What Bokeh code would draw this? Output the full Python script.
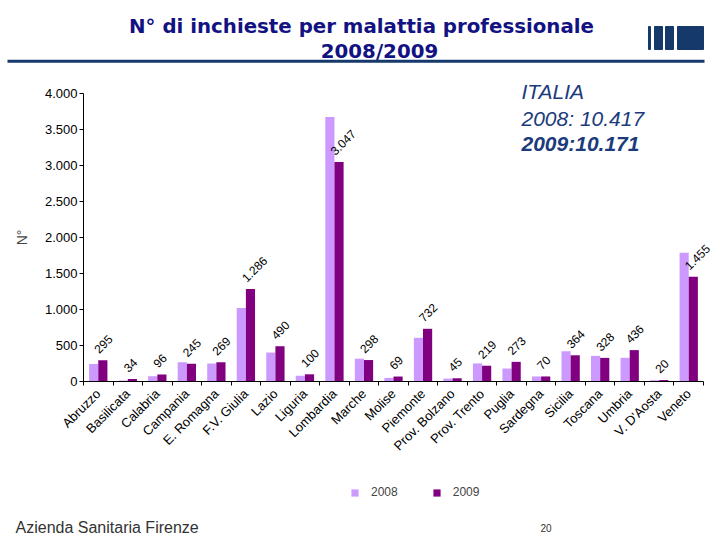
import math
from bokeh.plotting import figure
from bokeh.models import (Range1d, FixedTicker, ColumnDataSource, LabelSet,
                          Legend, LegendItem)
from bokeh.transform import dodge
from bokeh.embed import file_html
from bokeh.resources import INLINE
from bokeh.core.properties import value

# ---------------- data ----------------
regions = ["Abruzzo", "Basilicata", "Calabria", "Campania", "E. Romagna", "F.V. Giulia",
           "Lazio", "Liguria", "Lombardia", "Marche", "Molise", "Piemonte",
           "Prov. Bolzano", "Prov. Trento", "Puglia", "Sardegna", "Sicilia", "Toscana",
           "Umbria", "V. D'Aosta", "Veneto"]
v2008 = [244, 15, 72, 268, 250, 1022, 402, 80, 3673, 317, 50, 607,
         40, 251, 180, 70, 420, 356, 329, 18, 1789]
v2009 = [295, 34, 96, 245, 269, 1286, 490, 100, 3047, 298, 69, 732,
         45, 219, 273, 70, 364, 328, 436, 20, 1455]
labels2009 = [f"{v:,}".replace(",", ".") for v in v2009]
series_names = ["2008", "2009"]
yticks = [0, 500, 1000, 1500, 2000, 2500, 3000, 3500, 4000]
ytick_labels = ["0", "500", "1.000", "1.500", "2.000", "2.500", "3.000", "3.500", "4.000"]
title_lines = ["N° di inchieste per malattia professionale", "2008/2009"]
italia_lines = ["ITALIA", "2008: 10.417", "2009:10.171"]
footer_text = "Azienda Sanitaria Firenze"
page_number = "20"

FONT = "Liberation Sans"
C08 = "#cc99ff"
C09 = "#800080"
NAVY = "#15396b"
W, H = 720, 540

# ---------------- page geometry (pixels -> data) ----------------
n = len(regions)
AX_LEFT, AX_RIGHT, AX_ZERO, AX_TOP = 83, 703, 381, 93
cat_px = (AX_RIGHT - AX_LEFT) / n
unit_px = (AX_ZERO - AX_TOP) / 4000


def X(px):
    return -0.5 + (px - AX_LEFT) / cat_px


def Y(py):
    return (AX_ZERO - py) / unit_px


p = figure(width=W, height=H, x_range=Range1d(X(0), X(W)), y_range=Range1d(Y(H), Y(0)),
           output_backend="svg", toolbar_location=None, min_border=0)
p.outline_line_color = None
p.xgrid.visible = False
p.ygrid.visible = False

# ---------------- bars ----------------
idx = list(range(n))
src = ColumnDataSource(dict(x=idx, region=regions, a=v2008, b=v2009, lab=labels2009))
r08 = p.vbar(x=dodge("x", -0.155, range=p.x_range), top="a", width=0.31, source=src,
             fill_color=C08, line_color=None)
r09 = p.vbar(x=dodge("x", 0.155, range=p.x_range), top="b", width=0.31, source=src,
             fill_color=C09, line_color=None)

vl = LabelSet(x="x", y="b", text="lab", source=src, x_offset=1, y_offset=6,
              angle=45, angle_units="deg", text_align="left", text_baseline="bottom",
              text_font=value(FONT), text_font_size="12px", text_color="#000000")
p.add_layout(vl)

# ---------------- axes ----------------
p.xaxis.fixed_location = 0
p.xaxis.bounds = (-0.5, n - 0.5)
p.xaxis.ticker = FixedTicker(ticks=idx, minor_ticks=[i - 0.5 for i in range(n + 1)])
p.xaxis.major_label_overrides = {i: r for i, r in enumerate(regions)}
p.xaxis.major_label_orientation = math.pi / 4
p.xaxis.major_tick_out = 0
p.xaxis.major_tick_in = 0
p.xaxis.minor_tick_out = 4
p.xaxis.minor_tick_in = 0
p.xaxis.major_label_standoff = 6
p.xaxis.major_label_text_font = FONT
p.xaxis.major_label_text_font_size = "13px"
p.xaxis.major_label_text_color = "#000000"
p.xaxis.axis_line_color = "#000000"
p.xaxis.minor_tick_line_color = "#000000"

p.yaxis.fixed_location = -0.5
p.yaxis.bounds = (0, 4000)
p.yaxis.ticker = FixedTicker(ticks=yticks)
p.yaxis.major_label_overrides = dict(zip(yticks, ytick_labels))
p.yaxis.major_tick_out = 4
p.yaxis.major_tick_in = 0
p.yaxis.minor_tick_line_color = None
p.yaxis.major_label_standoff = 2
p.yaxis.major_label_text_font = FONT
p.yaxis.major_label_text_font_size = "13px"
p.yaxis.major_label_text_color = "#000000"
p.yaxis.axis_line_color = "#000000"
p.yaxis.major_tick_line_color = "#000000"
p.yaxis.axis_label = "N°"
p.yaxis.axis_label_text_font = FONT
p.yaxis.axis_label_text_font_style = "normal"
p.yaxis.axis_label_text_font_size = "14px"
p.yaxis.axis_label_standoff = 12

# ---------------- header: title, rule, logo ----------------
p.text(x=[X(361), X(379)], y=[Y(25.7), Y(51)], text=title_lines, text_align="center",
       text_baseline="alphabetic", text_font=value("DejaVu Sans"), text_font_style="bold",
       text_font_size="19.8px", text_color="#121282")
p.segment(x0=[X(7)], y0=[Y(60.8)], x1=[X(704)], y1=[Y(60.8)], line_width=3, line_color=NAVY)
p.quad(left=[X(648), X(654), X(665), X(677)], right=[X(650), X(662), X(673), X(703)],
       top=[Y(26)] * 4, bottom=[Y(49)] * 4, color=NAVY)

# ---------------- ITALIA box ----------------
p.text(x=[X(521)] * 2, y=[Y(90.7), Y(118.3)], text=italia_lines[:2],
       text_font=value(FONT), text_font_size="21px",
       text_font_style="italic", text_color="#1b3b7c",
       text_align="left", text_baseline="alphabetic")
p.text(x=[X(521)], y=[Y(143)], text=italia_lines[2:],
       text_font=value(FONT), text_font_size="21px",
       text_font_style="bold italic", text_color="#1b3b7c",
       text_align="left", text_baseline="alphabetic")

# ---------------- legend & footer ----------------
legend = Legend(items=[LegendItem(label=series_names[0], renderers=[r08]),
                       LegendItem(label=series_names[1], renderers=[r09])],
                location=(350, H - 499.3), orientation="horizontal",
                glyph_width=9, glyph_height=9, label_standoff=12, spacing=34,
                padding=0, margin=0, label_height=9,
                border_line_color=None, background_fill_alpha=0,
                label_text_font=FONT, label_text_font_size="12px")
p.add_layout(legend)
p.text(x=[X(15)], y=[Y(527)], text=[footer_text], text_font=value(FONT), text_font_size="16px",
       text_color="#333333", text_align="left", text_baseline="alphabetic")
p.text(x=[X(540)], y=[Y(527)], text=[page_number], text_font=value(FONT), text_font_size="10px",
       text_color="#333333", text_align="left", text_baseline="alphabetic")

open("out.html", "w").write(file_html(p, INLINE))
